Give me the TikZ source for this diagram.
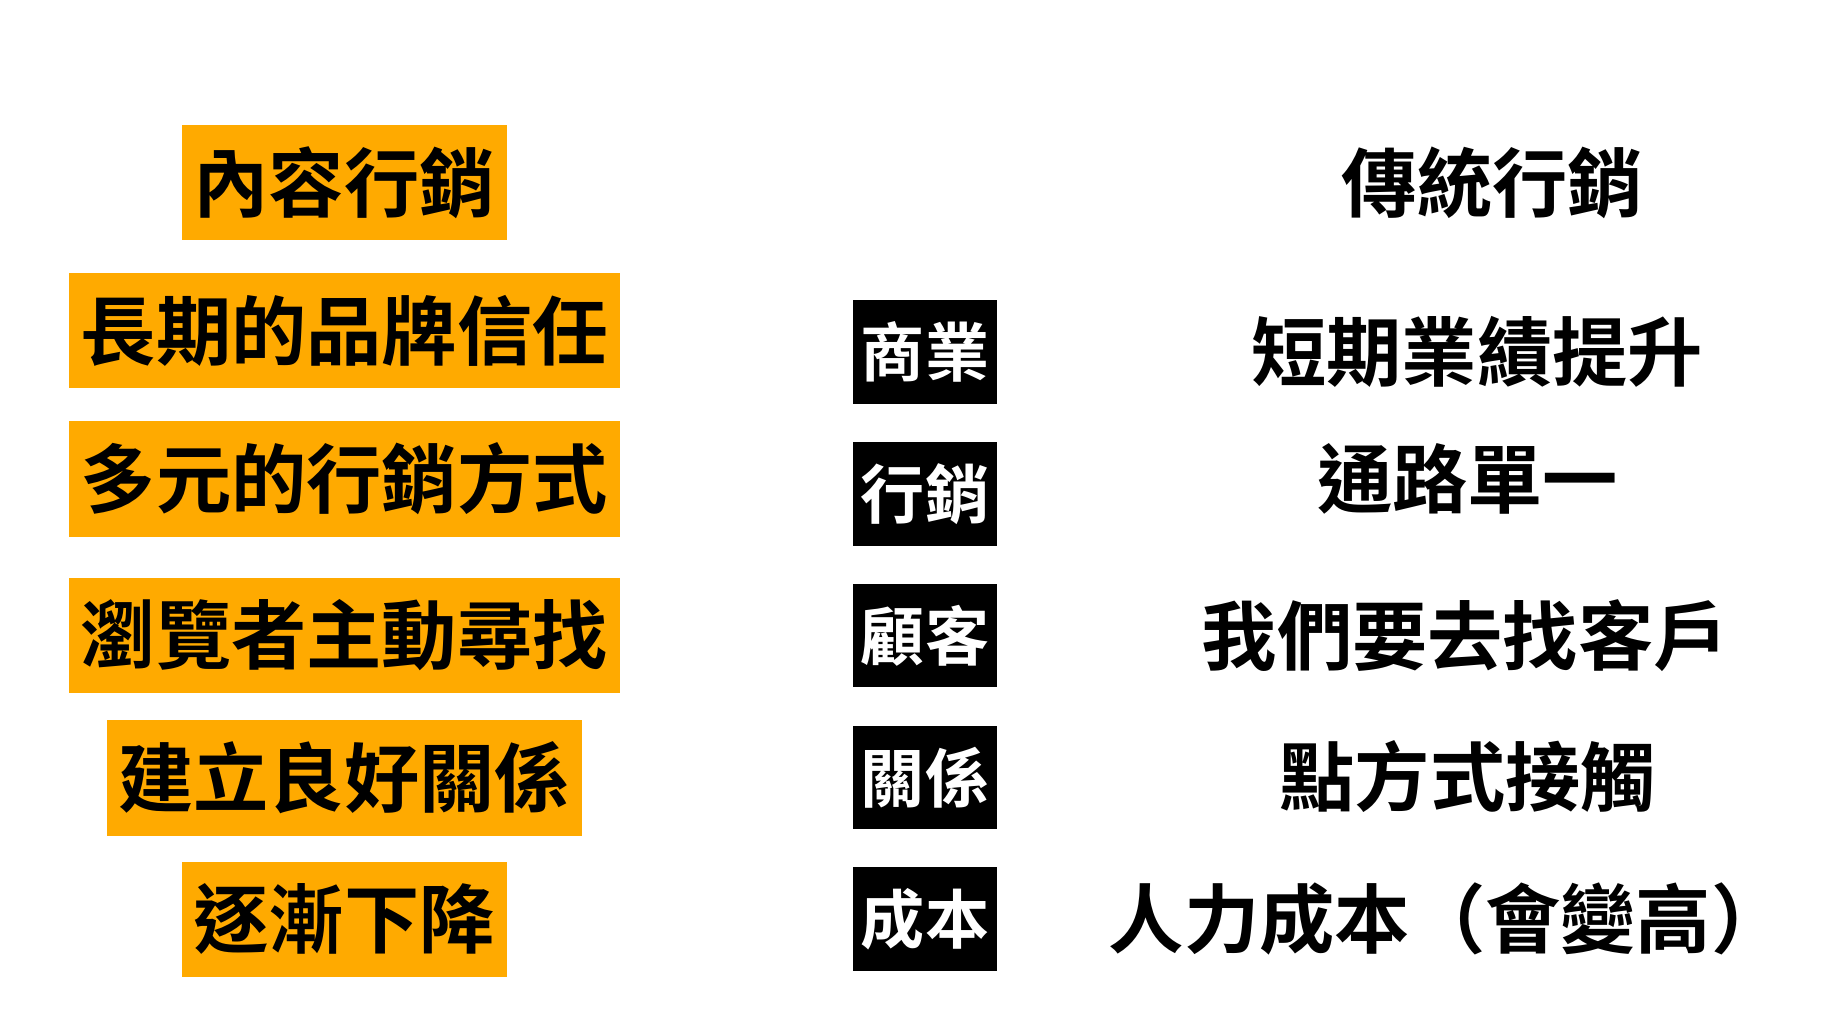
\documentclass[tikz,border=0pt]{standalone}
\usepackage{fontspec}
\newfontfamily\cjk{Noto Sans CJK TC}[BoldFont={Noto Sans CJK TC Bold}]
\definecolor{org}{HTML}{FFAA00}
\tikzset{
 lbox/.style={fill=org,font=\cjk\bfseries\fontsize{18.2}{20}\selectfont,inner xsep=0.1cm,minimum height=0.98cm,inner ysep=0pt},
 bbox/.style={fill=black,text=white,font=\cjk\bfseries\fontsize{15.5}{18}\selectfont,minimum width=1.22cm,minimum height=0.88cm,inner sep=0pt},
 rtext/.style={font=\cjk\bfseries\fontsize{18.2}{20}\selectfont,inner sep=0pt}
}
\begin{document}
\begin{tikzpicture}[y=-1cm]
\useasboundingbox (0,0) rectangle (15.6,8.68);
\node[lbox] (l0) at (2.925,1.55) {內容行銷};
\node[lbox] (l1) at (2.925,2.81) {長期的品牌信任};
\node[lbox] (l2) at (2.925,4.07) {多元的行銷方式};
\node[lbox] (l3) at (2.925,5.40) {瀏覽者主動尋找};
\node[lbox] (l4) at (2.925,6.61) {建立良好關係};
\node[lbox] (l5) at (2.925,7.81) {逐漸下降};
\node[bbox] (b1) at (7.86,2.99) {商業};
\node[bbox] (b2) at (7.86,4.195) {行銷};
\node[bbox] (b3) at (7.86,5.40) {顧客};
\node[bbox] (b4) at (7.86,6.605) {關係};
\node[bbox] (b5) at (7.86,7.81) {成本};
\node[rtext] (r0) at (12.68,1.55) {傳統行銷};
\node[rtext] (r1) at (12.55,2.99) {短期業績提升};
\node[rtext] (r2) at (12.47,4.07) {通路單一};
\node[rtext] (r3) at (12.45,5.40) {我們要去找客戶};
\node[rtext] (r4) at (12.47,6.60) {點方式接觸};
\node[rtext] (r5) at (12.30,7.81) {人力成本（會變高）};
\end{tikzpicture}
\end{document}
